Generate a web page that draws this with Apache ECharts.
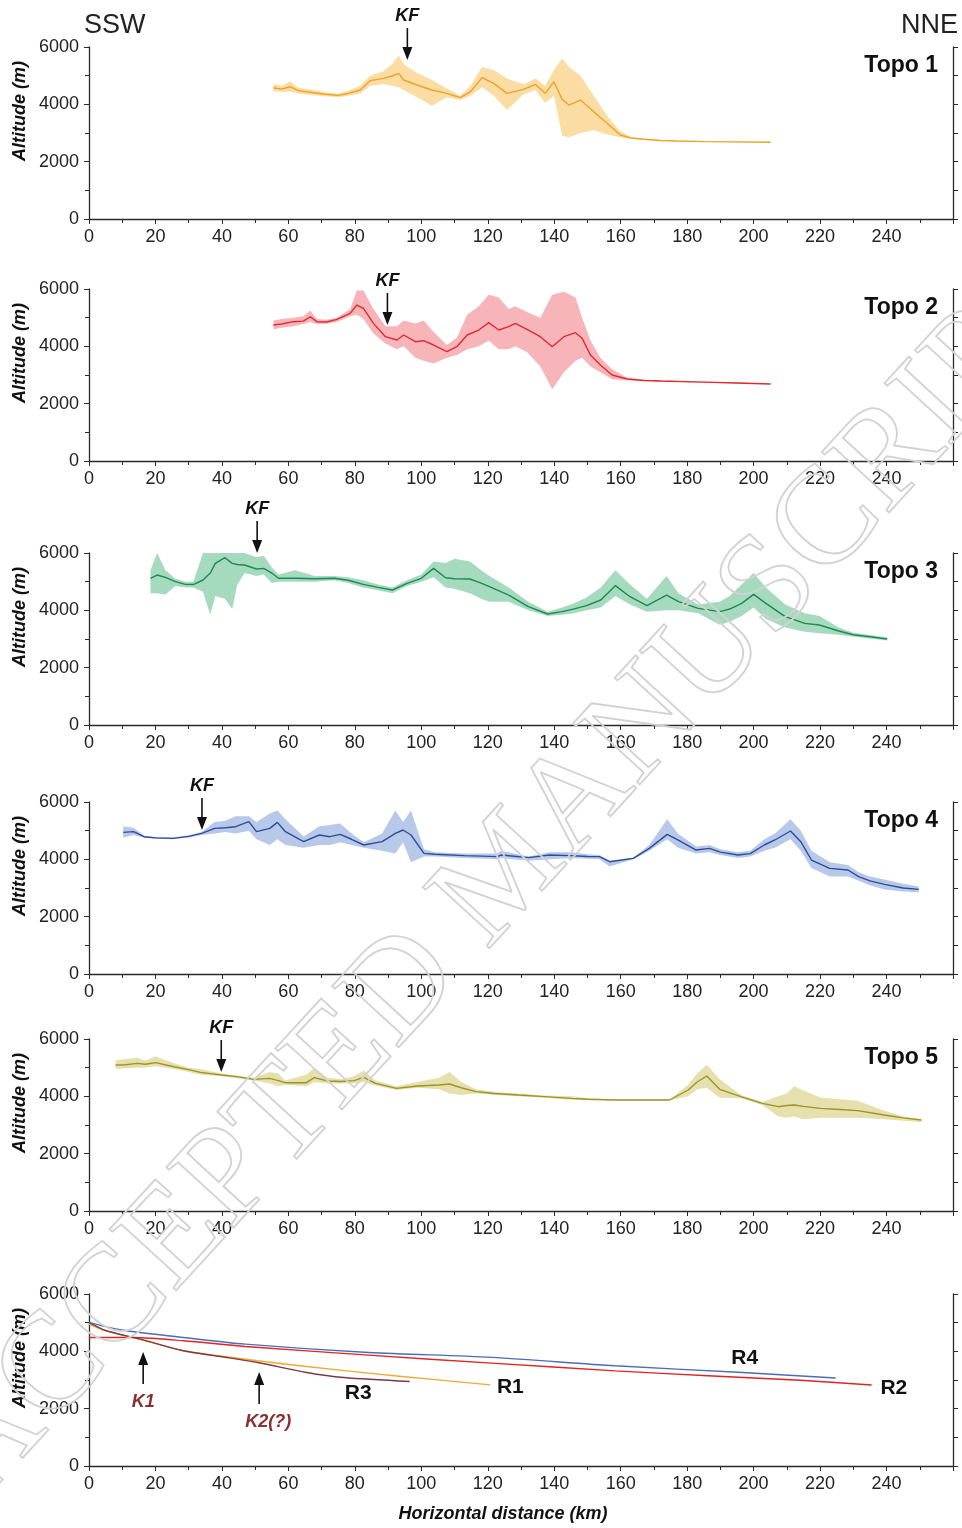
<!DOCTYPE html>
<html>
<head>
<meta charset="utf-8">
<script src="https://cdn.jsdelivr.net/npm/echarts@6/dist/echarts.min.js"></script>
<style>
  html, body { margin: 0; padding: 0; background: #fff; }
  #chart { width: 962px; height: 1528px; }
</style>
</head>
<body>
<div id="chart"></div>
<script>
// Topographic swath profiles (SSW -> NNE), mean line + min/max envelope, km / m

const topo1Km   = [55.5, 58, 60.5, 63, 67.6, 71, 75.1, 78, 81.6, 84.6, 88.6, 91.2, 93.2, 94.7, 98.7, 103.2, 107.7, 111.7, 114.8, 118.3, 121.8, 125.8, 130.8, 134.3, 137.3, 139.9, 142.4, 144.4, 147.9, 151.9, 155.9, 159.9, 163, 167, 172, 177, 185, 195, 205.1];
const topo1Mean = [4580, 4530, 4615, 4480, 4405, 4350, 4314, 4380, 4500, 4825, 4907, 4988, 5082, 4848, 4674, 4500, 4384, 4232, 4440, 4930, 4732, 4384, 4524, 4698, 4384, 4790, 4174, 3976, 4150, 3743, 3337, 2930, 2830, 2780, 2740, 2720, 2700, 2690, 2675];
const topo1Low  = [4450, 4430, 4450, 4380, 4320, 4280, 4250, 4300, 4380, 4650, 4700, 4650, 4600, 4500, 4250, 3950, 4250, 4150, 4300, 4600, 4300, 3800, 4350, 4500, 4050, 4300, 2900, 2850, 3000, 3100, 2950, 2850, 2790, 2760, 2730, 2710, 2690, 2680, 2665];
const topo1High = [4700, 4650, 4800, 4580, 4500, 4420, 4380, 4470, 4650, 5000, 5150, 5400, 5700, 5400, 5100, 4850, 4550, 4300, 4650, 5300, 5200, 4900, 4700, 4900, 4650, 5200, 5600, 5300, 5000, 4300, 3600, 3050, 2870, 2800, 2750, 2730, 2710, 2700, 2685];

const topo2Km   = [55.5, 58, 61.5, 64.5, 66.6, 68.6, 71.5, 74.6, 78.6, 80.6, 82.6, 85.6, 89.2, 92.7, 94.7, 98.2, 100.7, 103.7, 107.7, 110.7, 113.8, 117.3, 120.3, 123.3, 126.3, 128.3, 131.8, 135.8, 139.4, 142.9, 146.4, 148.4, 150.9, 153.9, 157.4, 162, 167, 172, 185, 195, 205.1];
const topo2Mean = [4744, 4780, 4860, 4880, 5033, 4860, 4850, 4942, 5150, 5441, 5325, 4802, 4337, 4220, 4395, 4162, 4197, 4046, 3813, 3987, 4395, 4569, 4825, 4569, 4685, 4802, 4593, 4337, 3987, 4337, 4476, 4279, 3697, 3348, 3000, 2860, 2810, 2790, 2750, 2720, 2686];
const topo2Low  = [4600, 4650, 4700, 4780, 4850, 4780, 4790, 4850, 5050, 5100, 4950, 4450, 4100, 3900, 4000, 3600, 3500, 3400, 3600, 3700, 3900, 4000, 4200, 3900, 3900, 4000, 3800, 3300, 2500, 3100, 3500, 3600, 3300, 3100, 2850, 2820, 2790, 2770, 2735, 2705, 2676];
const topo2High = [4900, 4950, 5000, 5050, 5250, 4950, 4930, 5000, 5300, 5950, 5950, 5300, 4700, 4700, 4900, 4800, 4900, 4500, 4050, 4300, 5100, 5400, 5800, 5700, 5300, 5400, 5200, 5000, 5800, 5900, 5700, 5000, 4200, 3600, 3200, 2900, 2830, 2810, 2765, 2735, 2696];

const topo3Km   = [18.5, 20.5, 23, 26, 29, 31.4, 34.3, 36.5, 38, 40.9, 43.1, 44.6, 46.8, 50.4, 52.6, 55, 57, 62, 68, 73.8, 78, 82.5, 87, 91.3, 95.7, 100, 103.7, 107.3, 110, 114.6, 118, 120.5, 126.3, 132.2, 138, 142.4, 146, 149.7, 154, 158.4, 162.8, 167.9, 173.8, 177.4, 183.3, 189.8, 192.8, 196.4, 200, 203.7, 209.5, 215.4, 219.8, 225.6, 230, 235, 240.2];
const topo3Mean = [5117, 5232, 5150, 5000, 4907, 4900, 5058, 5300, 5639, 5836, 5639, 5600, 5581, 5441, 5465, 5300, 5117, 5117, 5100, 5117, 5050, 4907, 4800, 4709, 4942, 5117, 5465, 5139, 5100, 5093, 4950, 4825, 4534, 4127, 3872, 3953, 4050, 4163, 4360, 4860, 4476, 4163, 4534, 4302, 4070, 3953, 4046, 4244, 4558, 4244, 3778, 3546, 3488, 3279, 3150, 3080, 3000];
const topo3Low  = [4600, 4600, 4550, 4850, 4800, 4800, 4650, 3850, 4500, 4400, 4050, 4880, 5300, 5200, 5250, 4950, 5000, 5000, 5000, 5050, 4950, 4800, 4700, 4600, 4850, 5000, 5150, 4800, 4750, 4600, 4400, 4300, 4300, 4000, 3800, 3850, 3900, 4000, 4100, 4500, 4200, 3950, 4000, 4000, 3900, 3500, 3600, 3800, 4100, 3700, 3400, 3250, 3200, 3150, 3080, 3020, 2950];
const topo3High = [5400, 6000, 5400, 5100, 5000, 5000, 6000, 6000, 6000, 6000, 6000, 6000, 6000, 5850, 5900, 5500, 5250, 5400, 5200, 5200, 5150, 5050, 4900, 4800, 5050, 5250, 5700, 5650, 5800, 5700, 5400, 5200, 4800, 4300, 3950, 4100, 4250, 4450, 4800, 5400, 4900, 4400, 5200, 4600, 4200, 4300, 4500, 4900, 5300, 4800, 4200, 3900, 3800, 3400, 3220, 3140, 3050];

const topo4Km   = [10.3, 13.4, 16.6, 20, 25.2, 30, 33.9, 37.8, 41, 44.1, 48.1, 50.4, 54.4, 56.7, 59.1, 64.6, 69.3, 72.5, 75.6, 79, 82.7, 88.2, 92.2, 94.5, 96.9, 100.8, 104, 113, 122.9, 124, 132.3, 138.6, 144.9, 150, 153.6, 156.7, 163.8, 168.6, 174, 177.2, 182.7, 186.7, 190, 195.3, 199, 203.2, 206.4, 211.1, 214.2, 217.4, 222.9, 228.4, 231.6, 235, 239.4, 245, 249.7];
const topo4Mean = [4942, 4965, 4790, 4750, 4732, 4800, 4906, 5081, 5100, 5139, 5314, 4965, 5081, 5290, 4965, 4616, 4849, 4790, 4870, 4700, 4500, 4616, 4906, 5023, 4849, 4209, 4175, 4130, 4093, 4150, 4058, 4151, 4128, 4100, 4093, 3918, 4035, 4383, 4870, 4675, 4325, 4383, 4250, 4151, 4200, 4500, 4675, 4988, 4616, 3976, 3686, 3628, 3395, 3250, 3128, 3000, 2953];
const topo4Low  = [4750, 4850, 4750, 4720, 4700, 4760, 4850, 4900, 4950, 4900, 5000, 4700, 4500, 4700, 4500, 4400, 4500, 4500, 4600, 4500, 4400, 4300, 4200, 4600, 3900, 4100, 4100, 4050, 4000, 4050, 3950, 4000, 4050, 4020, 4000, 3750, 4000, 4300, 4700, 4400, 4200, 4250, 4150, 4050, 4100, 4300, 4400, 4700, 4300, 3700, 3400, 3400, 3250, 3100, 2950, 2880, 2850];
const topo4High = [5150, 5100, 4820, 4780, 4760, 4840, 4950, 5300, 5350, 5500, 5500, 5300, 5600, 5700, 5400, 4800, 5150, 5200, 5250, 4900, 4600, 4900, 5700, 5300, 5700, 4350, 4250, 4200, 4200, 4300, 4100, 4250, 4250, 4180, 4150, 3950, 4060, 4500, 5400, 4900, 4450, 4500, 4350, 4250, 4300, 4700, 4900, 5400, 5000, 4300, 3900, 3800, 3550, 3400, 3300, 3150, 3050];

const topo5Km   = [8, 11, 14.4, 17, 20, 25.6, 30, 33.5, 39.9, 45, 49.5, 54.3, 57, 59, 65.4, 67.8, 71.8, 76, 79.8, 82.7, 86.2, 92.5, 98.9, 105.3, 108.5, 112, 116.5, 122, 129.2, 137, 145.2, 150, 158, 166, 174.7, 180.3, 183, 185.9, 189.8, 196.2, 202.6, 207.4, 210, 212.2, 215, 220.2, 226, 231.3, 239.3, 245, 250.5];
const topo5Mean = [5092, 5100, 5151, 5120, 5174, 5034, 4930, 4837, 4744, 4680, 4593, 4628, 4550, 4476, 4476, 4651, 4535, 4520, 4547, 4662, 4453, 4279, 4361, 4395, 4430, 4300, 4163, 4100, 4046, 3990, 3930, 3900, 3872, 3872, 3872, 4221, 4500, 4709, 4244, 3988, 3755, 3639, 3680, 3697, 3650, 3581, 3540, 3500, 3348, 3250, 3174];
const topo5Low  = [4950, 4980, 5000, 5000, 5050, 4950, 4850, 4750, 4700, 4620, 4550, 4450, 4350, 4400, 4350, 4500, 4450, 4450, 4450, 4500, 4380, 4220, 4300, 4250, 4100, 4050, 4100, 4050, 4000, 3950, 3880, 3870, 3860, 3860, 3860, 4000, 4250, 4300, 3950, 3930, 3700, 3300, 3250, 3300, 3200, 3250, 3250, 3250, 3200, 3150, 3100];
const topo5High = [5250, 5300, 5350, 5250, 5400, 5150, 5000, 4950, 4800, 4720, 4650, 4850, 4800, 4550, 4750, 5000, 4650, 4600, 4700, 4900, 4550, 4350, 4500, 4650, 4850, 4500, 4250, 4150, 4100, 4030, 4000, 3940, 3890, 3890, 3890, 4400, 4800, 5100, 4600, 4050, 3800, 4000, 4100, 4350, 4200, 3950, 3900, 3850, 3500, 3300, 3200];

// river long profiles (bottom panel)
const r1Km  = [0, 5, 15, 28, 40, 50.7, 65.5, 84.1, 102.6, 120.8];
const r1Alt = [4950, 4720, 4430, 4030, 3830, 3670, 3472, 3239, 3029, 2830];
const r2Km  = [0, 13.5, 28.4, 47, 84.1, 121.2, 158.3, 186.2, 214, 235.5];
const r2Alt = [4485, 4480, 4369, 4171, 3868, 3588, 3320, 3150, 2990, 2825];
const r3Km  = [0, 5.2, 15.4, 28.4, 39.5, 50.7, 65.5, 76.7, 96.5];
const r3Alt = [5010, 4718, 4427, 4019, 3821, 3612, 3262, 3087, 2950];
const r4Km  = [0, 9.8, 28.4, 47, 84.1, 121.2, 158.3, 195.4, 224.7];
const r4Alt = [5010, 4742, 4485, 4252, 3961, 3790, 3495, 3270, 3070];

// annotation anchors
const kfKm  = [95.8, 89.8, 50.6, 34, 39.8];
const kfAlt = [5546, 4744, 6000, 5023, 4848];
const kLabels = ['K1', 'K2(?)'];
const kKm  = [16.3, 51.2];
const kAlt = [3976, 3279];
const rLabels = ['R1', 'R2', 'R3', 'R4'];
const rLabelKm  = [126.8, 242.2, 81, 197.3];
const rLabelAlt = [2755, 2720, 2546, 3767];

const FONT = "'Liberation Sans', Arial, Helvetica, sans-serif";
const NARROW = "'Liberation Sans Narrow', 'Liberation Sans', Arial, sans-serif";
const AXIS = '#2a2a2a';

const topos = [
  { km: topo1Km, mean: topo1Mean, low: topo1Low, high: topo1High, line: '#eaa326', band: '#fbdda3', name: 'Topo 1' },
  { km: topo2Km, mean: topo2Mean, low: topo2Low, high: topo2High, line: '#df2a30', band: '#f7b5b9', name: 'Topo 2' },
  { km: topo3Km, mean: topo3Mean, low: topo3Low, high: topo3High, line: '#1b8a52', band: '#a6dabe', name: 'Topo 3' },
  { km: topo4Km, mean: topo4Mean, low: topo4Low, high: topo4High, line: '#2d4d9c', band: '#b7c8e9', name: 'Topo 4' },
  { km: topo5Km, mean: topo5Mean, low: topo5Low, high: topo5High, line: '#9d9422', band: '#e6dfae', name: 'Topo 5' }
];
const rivers = [
  { km: r1Km, alt: r1Alt, color: '#f0a92e' },
  { km: r2Km, alt: r2Alt, color: '#e02424' },
  { km: r3Km, alt: r3Alt, color: '#7a3b45' },
  { km: r4Km, alt: r4Alt, color: '#4a6db6' }
];

const gridTops = [47, 289, 553, 802, 1039, 1294];
const gridH = 172;

const grids = [], xAxes = [], yAxes = [], series = [];
gridTops.forEach((top, i) => {
  grids.push({ left: 89, right: 9, top: top, height: gridH });
  xAxes.push({
    gridIndex: i, type: 'value', min: 0, max: 260, interval: 20,
    axisLine: { show: true, onZero: false, lineStyle: { color: AXIS, width: 1.3 } },
    axisTick: { show: true, length: 5, lineStyle: { color: AXIS, width: 1 } },
    minorTick: { show: true, splitNumber: 2, length: 4, lineStyle: { color: AXIS, width: 1 } },
    splitLine: { show: false },
    axisLabel: { fontSize: 18, color: '#222', margin: 9, fontFamily: FONT,
                 formatter: v => (v === 260 ? '' : String(v)) }
  });
  yAxes.push({
    gridIndex: i, type: 'value', min: 0, max: 6000, interval: 2000,
    axisLine: { show: true, lineStyle: { color: AXIS, width: 1.3 } },
    axisTick: { show: true, length: 5, lineStyle: { color: AXIS, width: 1 } },
    minorTick: { show: true, splitNumber: 2, length: 4, lineStyle: { color: AXIS, width: 1 } },
    splitLine: { show: false },
    axisLabel: { fontSize: 18, color: '#222', margin: 10, fontFamily: FONT, formatter: v => String(v) }
  });
  yAxes.push({
    gridIndex: i, type: 'value', position: 'right', min: 0, max: 6000, interval: 1000,
    axisLine: { show: true, lineStyle: { color: AXIS, width: 1.3 } },
    axisTick: { show: true, length: 5, lineStyle: { color: AXIS, width: 1 } },
    splitLine: { show: false },
    axisLabel: { show: false }
  });
});

topos.forEach((p, i) => {
  series.push({
    type: 'custom', xAxisIndex: i, yAxisIndex: 2 * i, silent: true, z: 2,
    data: [[p.km[0], p.mean[0]]],
    renderItem: (params, api) => {
      const pts = [];
      for (let j = 0; j < p.km.length; j++) pts.push(api.coord([p.km[j], p.high[j]]));
      for (let j = p.km.length - 1; j >= 0; j--) pts.push(api.coord([p.km[j], p.low[j]]));
      return { type: 'polygon', shape: { points: pts }, style: { fill: p.band } };
    }
  });
  series.push({
    type: 'line', xAxisIndex: i, yAxisIndex: 2 * i, z: 3,
    data: p.km.map((k, j) => [k, p.mean[j]]),
    symbol: 'none', lineStyle: { color: p.line, width: 1.4 }
  });
});
rivers.forEach(r => {
  series.push({
    type: 'line', xAxisIndex: 5, yAxisIndex: 10, z: 3,
    data: r.km.map((k, j) => [k, r.alt[j]]),
    symbol: 'none', smooth: 0.3, lineStyle: { color: r.color, width: 1.4 }
  });
});

const chart = echarts.init(document.getElementById('chart'), null, { renderer: 'canvas' });
chart.setOption({
  animation: false,
  backgroundColor: '#fff',
  grid: grids, xAxis: xAxes, yAxis: yAxes, series: series
});

// overlay annotations placed through the axes
const g = [];
const px = (i, km, alt) => chart.convertToPixel({ xAxisIndex: i, yAxisIndex: 2 * i }, [km, alt]);

function arrow(x, tip, len, dir) {
  // dir = 1 pointing down, -1 pointing up
  const base = tip - dir * len;
  const neck = tip - dir * 13;
  g.push({ type: 'line', shape: { x1: x, y1: base, x2: x, y2: neck }, style: { stroke: '#111', lineWidth: 1.6 } });
  g.push({ type: 'polygon', shape: { points: [[x - 5, neck], [x + 5, neck], [x, tip]] }, style: { fill: '#111' } });
  return base;
}

kfKm.forEach((k, i) => {
  const [x, y] = px(i, k, kfAlt[i]);
  const top = arrow(x, y, 32, 1);
  g.push({ type: 'text', x: x, y: top - 12,
    style: { text: 'KF', font: 'italic bold 18px ' + NARROW, fill: '#111', textAlign: 'center', textVerticalAlign: 'middle' } });
});
kKm.forEach((k, i) => {
  const [x, y] = px(5, k, kAlt[i]);
  const bottom = arrow(x, y, 32, -1);
  g.push({ type: 'text', x: i === 0 ? x : x + 9, y: bottom + 18,
    style: { text: kLabels[i], font: 'italic bold 18px ' + NARROW, fill: '#8a2e2e', textAlign: 'center', textVerticalAlign: 'middle' } });
});
rLabels.forEach((t, i) => {
  const [x, y] = px(5, rLabelKm[i], rLabelAlt[i]);
  g.push({ type: 'text', x: x, y: y,
    style: { text: t, font: 'bold 21px ' + FONT, fill: '#111', textAlign: 'center', textVerticalAlign: 'middle' } });
});
topos.forEach((p, i) => {
  g.push({ type: 'text', x: 938, y: gridTops[i] + 19,
    style: { text: p.name, font: 'bold 23px ' + FONT, fill: '#111', textAlign: 'right', textVerticalAlign: 'middle' } });
});
gridTops.forEach(top => {
  g.push({ type: 'text', x: 20, y: top + 64, rotation: Math.PI / 2,
    style: { text: 'Altitude (m)', font: 'italic bold 18px ' + FONT, fill: '#111', textAlign: 'center', textVerticalAlign: 'middle' } });
});
g.push({ type: 'text', x: 503, y: 1514,
  style: { text: 'Horizontal distance (km)', font: 'italic bold 18px ' + FONT, fill: '#111', textAlign: 'center', textVerticalAlign: 'middle' } });
g.push({ type: 'text', x: 84, y: 26,
  style: { text: 'SSW', font: '27px ' + FONT, fill: '#222', textAlign: 'left', textVerticalAlign: 'middle' } });
g.push({ type: 'text', x: 958, y: 26,
  style: { text: 'NNE', font: '27px ' + FONT, fill: '#222', textAlign: 'right', textVerticalAlign: 'middle' } });
// watermark
g.push({ type: 'text', x: -45, y: 1478, rotation: 47.5 * Math.PI / 180, z: 100, silent: true,
  style: { text: 'ACCEPTED MANUSCRIPT', font: '138px "Liberation Serif", "DejaVu Serif", serif',
           fill: 'rgba(255,255,255,0)', stroke: '#d2d2d2', lineWidth: 1.8, textAlign: 'left', textVerticalAlign: 'middle' } });

chart.setOption({ graphic: { elements: g } });
</script>
</body>
</html>
